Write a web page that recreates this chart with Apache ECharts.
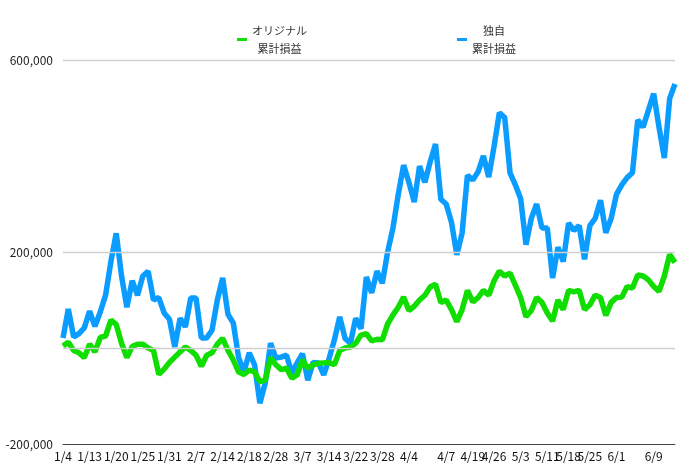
<!DOCTYPE html>
<html>
<head>
<meta charset="utf-8">
<script src="https://cdn.jsdelivr.net/npm/echarts@6/dist/echarts.min.js"></script>
<style>html,body{margin:0;padding:0;background:#fff}#c{width:700px;height:475px}</style>
</head>
<body>
<div id="c"></div>
<script>
const categories = [
'1/4','1/5','1/6','1/8','1/12',
'1/13','1/14','1/15','1/18','1/19',
'1/20','1/21','1/21','1/22','1/22',
'1/25','1/26','1/27','1/28','1/29',
'1/31','2/1','2/2','2/3','2/4',
'2/7','2/8','2/9','2/10','2/12',
'2/14','2/15','2/16','2/17','2/17',
'2/18','2/19','2/22','2/24','2/25',
'2/28','3/1','3/2','3/3','3/4',
'3/7','3/8','3/9','3/10','3/11',
'3/14','3/15','3/16','3/17','3/18',
'3/22','3/23','3/24','3/25','3/26',
'3/28','3/29','3/30','3/31','4/1',
'4/4','4/5','4/5','4/6','4/6','4/6','4/6',
'4/7','4/12','4/13','4/14','4/15',
'4/19','4/20','4/21','4/22',
'4/26','4/27','4/28','4/29','4/30',
'5/3','5/4','5/6','5/7','5/10',
'5/11','5/12','5/13','5/14',
'5/18','5/19','5/20','5/21',
'5/25','5/26','5/27','5/28','5/31',
'6/1','6/2','6/3','6/4','6/6','6/7','6/8',
'6/9','6/10','6/11','6/14','6/15'
];
const tickLabels = ['1/4','1/13','1/20','1/25','1/31','2/7','2/14','2/18','2/28','3/7','3/14','3/22','3/28','4/4','4/7','4/19','4/26','5/3','5/11','5/18','5/25','6/1','6/9'];
const yLabelValues = [600000, 200000, -200000];
const gridLineValues = [600000, 200000, 0];

// cumulative P/L, thousands of yen
const originalK = [
4,12,-5,-10,-20,8,-8,22,25,58,
49,10,-20,3,8,8,0,-5,-55,-44,
-30,-19,-8,2,-5,-15,-38,-15,-10,8,
20,-5,-25,-50,-55,-46,-50,-70,-67,-20,
-35,-45,-42,-63,-56,-25,-42,-35,-32,-31,
-30,-35,-5,0,2,10,27,30,15,18,
17,50,69,85,106,78,87,100,110,127,
133,95,100,80,55,80,120,96,105,120,
110,140,160,150,156,131,105,65,78,105,
95,73,56,100,80,120,117,120,80,90,
110,105,68,95,105,106,128,125,152,150,
142,128,118,150,195,178
];
const dokujiK = [
21,81,23,30,42,77,45,75,110,180,
239,150,85,140,110,150,160,100,105,73,
60,2,62,44,104,104,21,21,37,100,
146,70,52,-20,-50,-10,-35,-115,-73,10,
-21,-19,-15,-52,-31,-12,-67,-30,-31,-56,
-22,17,65,20,10,62,40,148,115,160,
135,200,250,320,381,345,304,379,345,388,
425,310,300,262,194,240,360,350,367,400,
356,420,490,480,365,340,311,215,270,300,
250,250,146,210,180,260,245,255,185,255,
270,308,240,270,320,340,355,365,475,460,
495,530,460,396,520,550
];
const original = originalK.map(v => v * 1000);
const dokuji = dokujiK.map(v => v * 1000);

const FONT = "'Noto Sans CJK JP', 'Noto Sans', sans-serif";
const chart = echarts.init(document.getElementById('c'));
const legendRich = { t: { align: 'center', lineHeight: 18, fontSize: 11, color: '#333', fontFamily: FONT } };
const legendFmt = n => n.split('\n').map(s => '{t|' + s + '}').join('\n');
chart.setOption({
  animation: false,
  backgroundColor: '#fff',
  legend: [
    { data: ['オリジナル\n累計損益'], left: 232, top: 20, icon: 'rect', itemWidth: 10, itemHeight: 3,
      formatter: legendFmt, textStyle: { rich: legendRich } },
    { data: ['独自\n累計損益'], left: 452, top: 20, icon: 'rect', itemWidth: 10, itemHeight: 3,
      formatter: legendFmt, textStyle: { rich: legendRich } }
  ],
  grid: { left: 63, right: 25, top: 60, bottom: 31, containLabel: false },
  xAxis: {
    type: 'category', data: categories, boundaryGap: false,
    axisLine: { onZero: false, lineStyle: { color: '#444', width: 1 } },
    axisTick: { show: false },
    axisLabel: {
      interval: (idx, val) => tickLabels.includes(val) && categories.indexOf(val) === idx,
      color: '#111', fontSize: 12, fontFamily: FONT, margin: 6
    },
    splitLine: { show: false }
  },
  yAxis: {
    type: 'value', min: -200000, max: 600000, interval: 200000,
    axisLine: { show: false }, axisTick: { show: false },
    axisLabel: {
      formatter: v => yLabelValues.includes(v) ? v.toLocaleString('en-US') : '',
      color: '#222', fontSize: 12, fontFamily: FONT, margin: 10
    },
    splitLine: { show: false }
  },
  series: [
    { name: 'オリジナル\n累計損益', type: 'line', data: original, showSymbol: false, symbol: 'none', clip: false,
      lineStyle: { color: '#10dd00', width: 5.5 }, itemStyle: { color: '#10dd00' }, z: 3,
      markLine: { silent: true, symbol: 'none', label: { show: false }, animation: false, precision: 0,
        lineStyle: { color: '#cfcfcf', width: 1.3, type: 'solid' },
        data: gridLineValues.map(v => [{ xAxis: 0, yAxis: v }, { xAxis: categories.length - 1, yAxis: v }]) } },
    { name: '独自\n累計損益', type: 'line', data: dokuji, showSymbol: false, symbol: 'none', clip: false,
      lineStyle: { color: '#0a9cff', width: 5.5 }, itemStyle: { color: '#0a9cff' }, z: 2 }
  ]
});
</script>
</body>
</html>
